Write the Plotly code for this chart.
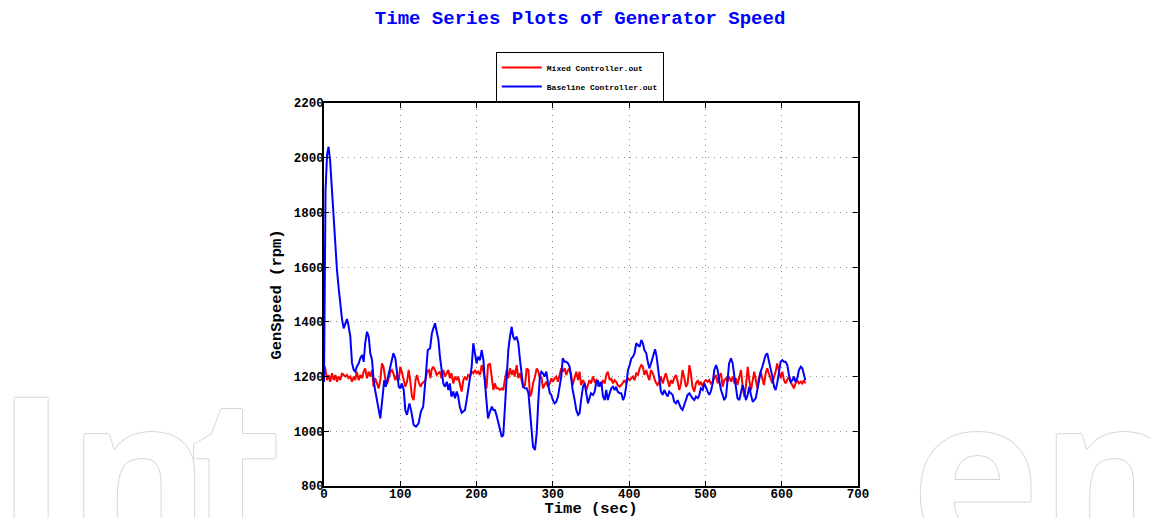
import plotly.graph_objects as go

# ---------------- data ----------------
time_baseline = [0, 1, 2, 4, 6, 8, 10.5, 13, 15, 17, 19, 21.4, 23.6, 25.8, 28, 30, 32, 34.5, 36.7, 39,
                 41, 43, 45.5, 47.6, 50, 52, 54, 56.4, 58.6, 60.7, 63, 65, 67, 69.5, 71.7, 73.8, 75, 77, 79, 81,
                 84, 87, 89, 91, 93.5, 95.7, 98, 100, 102, 104.5, 106.6, 108.8, 112, 114.5, 117.5, 120.6, 124, 127, 130, 133,
                 136, 139, 141.5, 145.5, 147.7, 150, 152, 154, 156.4, 158.6, 161, 163, 165, 167, 169.5, 171.7, 174, 176, 178, 180.5,
                 182.6, 184.8, 187, 189, 191.4, 193.6, 195.7, 198, 200, 202, 204.5, 206.7, 209, 211, 213, 215, 217.6, 220, 222, 224,
                 226, 228.5, 230.7, 233, 235, 237, 239.5, 241.6, 243.8, 246, 248, 250, 252.6, 254.7, 257, 259, 261, 263.5, 265.7, 268,
                 270, 272, 274, 276.6, 278.8, 281, 283, 285, 287, 289, 291.5, 293.6, 296, 298, 300, 302.4, 304.5, 306.7, 309, 311,
                 313, 315.5, 317.6, 320, 322, 324, 326, 328.6, 330.7, 333, 335, 337, 339.5, 341.7, 344, 346, 348, 350, 352.6, 354.8,
                 357, 359, 361, 363.5, 365.7, 368, 370, 372, 374.5, 376.6, 378.8, 381, 383, 385, 387.6, 389.7, 392, 394, 396, 398.5,
                 400.7, 403, 405, 407, 409.4, 411.6, 413.8, 416, 418, 420, 422.5, 424, 426.5, 428.6, 431, 434, 436, 438, 439.5, 441.7,
                 444, 446, 448, 450.5, 452.6, 454.8, 457, 459, 461.4, 463.6, 465.7, 468, 470, 472, 474.5, 476.7, 479, 481, 483, 485.4,
                 487.6, 490, 492, 494, 496.4, 498.5, 500.7, 503, 505, 507, 509.5, 511.6, 514, 516, 518, 520.4, 522.6, 524.7, 527, 529,
                 531, 533.5, 535.7, 538, 540, 542, 544.4, 546.6, 548.8, 551, 553, 555.4, 557.5, 559.7, 562, 564, 566, 568, 570, 572.4,
                 574.6, 576.7, 579, 581, 583, 585.5, 587.7, 590, 592, 594, 596.4, 598.6, 600.8, 603, 605, 607.3, 609.5, 611.7, 614, 616,
                 618, 620.4, 622.6, 625, 627, 629, 631]
speed_baseline = [1180, 1600, 1880, 2010, 2040, 1990, 1880, 1760, 1660, 1590, 1530, 1460, 1410, 1376, 1395, 1410, 1389, 1346, 1250, 1224,
                  1218, 1236, 1248, 1267, 1279, 1254, 1322, 1364, 1346, 1285, 1260, 1187, 1151, 1114, 1090, 1047, 1078, 1139, 1187, 1163,
                  1200, 1242, 1267, 1285, 1267, 1224, 1163, 1157, 1175, 1151, 1078, 1060, 1102, 1072, 1023, 1017, 1029, 1072, 1090, 1187,
                  1297, 1303, 1359, 1395, 1358, 1334, 1273, 1224, 1175, 1163, 1181, 1151, 1175, 1127, 1145, 1121, 1145, 1127, 1090, 1068,
                  1072, 1078, 1114, 1151, 1187, 1236, 1322, 1285, 1248, 1273, 1260, 1297, 1260, 1175, 1102, 1047, 1072, 1090, 1078, 1078,
                  1060, 1029, 998, 980, 986, 1078, 1187, 1297, 1346, 1382, 1346, 1334, 1346, 1322, 1260, 1200, 1163, 1157, 1157, 1139,
                  1078, 993, 944, 932, 993, 1114, 1200, 1218, 1212, 1200, 1218, 1175, 1139, 1133, 1114, 1102, 1108, 1127, 1163, 1200,
                  1267, 1254, 1254, 1248, 1236, 1187, 1151, 1114, 1078, 1060, 1066, 1114, 1163, 1175, 1127, 1102, 1121, 1139, 1133, 1145,
                  1181, 1187, 1163, 1181, 1127, 1114, 1151, 1114, 1139, 1157, 1163, 1151, 1163, 1145, 1139, 1139, 1114, 1127, 1163, 1224,
                  1242, 1267, 1273, 1285, 1322, 1316, 1309, 1334, 1322, 1297, 1285, 1260, 1230, 1248, 1273, 1300, 1273, 1224, 1175, 1145,
                  1133, 1151, 1139, 1127, 1145, 1139, 1133, 1108, 1102, 1114, 1096, 1084, 1078, 1096, 1114, 1133, 1139, 1127, 1121, 1114,
                  1127, 1121, 1133, 1157, 1151, 1175, 1163, 1145, 1133, 1145, 1175, 1224, 1242, 1224, 1187, 1151, 1133, 1114, 1127, 1200,
                  1248, 1267, 1248, 1200, 1151, 1121, 1114, 1145, 1169, 1145, 1114, 1133, 1163, 1133, 1108, 1114, 1121, 1151, 1187, 1218,
                  1236, 1260, 1279, 1285, 1260, 1236, 1200, 1163, 1151, 1175, 1218, 1254, 1260, 1254, 1254, 1242, 1206, 1181, 1187, 1200,
                  1181, 1194, 1224, 1236, 1230, 1206, 1187]

time_mixed = [0, 1.7, 4, 6, 8, 10.5, 12.7, 15, 17, 19, 21.4, 23.6, 25.8, 28, 30, 32, 34.5, 36.7, 39, 41,
              43, 45.5, 47.6, 50, 52, 54, 56.4, 58.6, 60.7, 63, 65, 67, 69.5, 71.7, 73.8, 76, 78, 80.6, 83, 85,
              87, 89, 91, 93.5, 95.7, 98, 100, 102, 104.5, 106.6, 108.8, 111, 113, 115.3, 117.5, 120, 122, 124, 126.5, 128.6,
              131, 133, 135, 137.5, 139.6, 141, 143, 145.5, 147.7, 150, 152, 154, 156.4, 158.6, 161, 163, 165, 167, 169.5, 171.7,
              174, 176, 178, 180.5, 182.6, 184.8, 187, 189, 191.4, 193.6, 195.7, 198, 200, 202, 204.5, 206.7, 209, 211, 213, 215,
              217.6, 220, 222, 224, 226, 228.5, 230.7, 233, 235, 237, 239.5, 241.6, 243.8, 246, 248, 250, 252.6, 254.7, 257, 259,
              261, 263.5, 265.7, 268, 270, 272, 274, 276.6, 278.8, 281, 283, 285, 287, 289, 291.5, 293.6, 296, 298, 300, 302.4,
              304.5, 306.7, 309, 311, 313, 315.5, 317.6, 320, 322, 324, 326, 328.6, 330.7, 333, 335, 337, 339.5, 341.7, 344, 346,
              348, 350, 352.6, 354.8, 357, 359, 361, 363.5, 365.7, 368, 370, 372, 374.5, 376.6, 378.8, 381, 383, 385, 387.6, 389.7,
              392, 394, 396, 398.5, 400.7, 403, 405, 407, 409.4, 411.6, 413.8, 416, 418, 420, 422.5, 424, 426.5, 428.6, 431, 433,
              434.5, 437, 439.5, 441.7, 444, 446, 448, 450.5, 452.6, 454.8, 457, 459, 461.4, 463.6, 465.7, 468, 470, 472, 474.5, 476.7,
              479, 481, 483, 485.4, 487.6, 490, 492, 494, 496.4, 498.5, 500.7, 503, 505, 507, 509.5, 511.6, 514, 516, 518, 520.4,
              522.6, 524.7, 527, 529, 531, 533.5, 535.7, 538, 540, 542, 544.4, 546.6, 548.8, 551, 553, 555.4, 557.5, 559.7, 562, 564,
              566, 568, 570, 572.4, 574.6, 576.7, 579, 581, 583, 585.5, 587.7, 590, 592, 594, 596.4, 598.6, 600.8, 603, 605, 607.3,
              609.5, 611.7, 614, 616, 618, 620.4, 622.6, 625, 627, 629, 631]
speed_mixed = [1240, 1230, 1187, 1206, 1181, 1212, 1187, 1206, 1181, 1200, 1187, 1212, 1206, 1200, 1206, 1194, 1200, 1181, 1200, 1187,
               1218, 1187, 1206, 1194, 1218, 1230, 1194, 1218, 1200, 1224, 1163, 1194, 1175, 1157, 1187, 1248, 1236, 1187, 1175, 1200,
               1218, 1224, 1212, 1187, 1206, 1187, 1236, 1218, 1181, 1163, 1181, 1224, 1187, 1127, 1114, 1187, 1206, 1181, 1163, 1175,
               1181, 1187, 1218, 1224, 1194, 1224, 1236, 1224, 1206, 1212, 1218, 1194, 1224, 1200, 1212, 1224, 1194, 1212, 1175, 1200,
               1187, 1200, 1175, 1145, 1187, 1200, 1187, 1206, 1200, 1218, 1212, 1224, 1212, 1218, 1206, 1242, 1218, 1187, 1157, 1242,
               1248, 1194, 1151, 1175, 1157, 1157, 1151, 1157, 1151, 1187, 1224, 1194, 1230, 1206, 1224, 1200, 1242, 1194, 1212, 1187,
               1163, 1169, 1230, 1224, 1127, 1139, 1175, 1200, 1230, 1218, 1194, 1200, 1157, 1169, 1181, 1163, 1175, 1194, 1181, 1194,
               1200, 1181, 1206, 1230, 1218, 1230, 1206, 1224, 1230, 1206, 1169, 1194, 1218, 1187, 1218, 1169, 1187, 1175, 1151, 1169,
               1187, 1175, 1200, 1181, 1187, 1169, 1175, 1169, 1187, 1175, 1206, 1218, 1187, 1194, 1175, 1187, 1181, 1169, 1163, 1169,
               1181, 1187, 1175, 1194, 1187, 1194, 1200, 1187, 1212, 1206, 1230, 1242, 1236, 1206, 1224, 1206, 1187, 1224, 1212, 1194,
               1181, 1169, 1181, 1200, 1175, 1194, 1212, 1187, 1163, 1187, 1175, 1194, 1206, 1181, 1151, 1175, 1224, 1200, 1163, 1175,
               1242, 1212, 1163, 1145, 1175, 1187, 1169, 1181, 1163, 1181, 1187, 1181, 1187, 1175, 1181, 1194, 1206, 1175, 1200, 1212,
               1163, 1187, 1194, 1181, 1200, 1181, 1200, 1175, 1194, 1169, 1194, 1224, 1163, 1127, 1163, 1236, 1187, 1151, 1187, 1218,
               1187, 1157, 1194, 1218, 1194, 1169, 1212, 1230, 1212, 1187, 1175, 1200, 1218, 1248, 1218, 1194, 1218, 1187, 1175, 1187,
               1200, 1181, 1169, 1157, 1175, 1187, 1175, 1181, 1175, 1187, 1175]

series_names = ["Mixed Controller.out", "Baseline Controller.out"]
x_ticks = [0, 100, 200, 300, 400, 500, 600, 700]
y_ticks = [800, 1000, 1200, 1400, 1600, 1800, 2000, 2200]

MONO = "Liberation Mono, Courier New, monospace"

fig = go.Figure()
fig.add_trace(go.Scatter(x=time_mixed, y=speed_mixed, mode="lines", name=series_names[0],
                         line=dict(color="#ff0000", width=2)))
fig.add_trace(go.Scatter(x=time_baseline, y=speed_baseline, mode="lines", name=series_names[1],
                         line=dict(color="#0000ff", width=2)))

axis_common = dict(
    showline=True, linecolor="black", linewidth=1.5, mirror="ticks",
    ticks="inside", ticklen=5, tickwidth=1, tickcolor="black",
    showgrid=True, gridcolor="#8a8a8a", griddash="1px,5px", gridwidth=1,
    zeroline=False,
    tickfont=dict(family=MONO, size=12.5, color="black", weight="bold"),
)

fig.update_xaxes(range=[0, 700], tickvals=x_ticks, ticklabelstandoff=-5,
                 title=dict(text="Time (sec)", standoff=7,
                            font=dict(family=MONO, size=15.5, color="black", weight="bold")),
                 automargin=False, **axis_common)
fig.update_yaxes(range=[800, 2200], tickvals=y_ticks, ticklabelstandoff=-4,
                 title=dict(text="GenSpeed (rpm)", standoff=8,
                            font=dict(family=MONO, size=15.5, color="black", weight="bold")),
                 automargin=False, **axis_common)

# faint outlined watermark letters outside the axes
wm_font = dict(family="Open Sans, Lato, sans-serif", size=218, color="white", weight="bold",
               shadow="1px 0 #d6d6d6, -1px 0 #d6d6d6, 0 1px #d6d6d6, 0 -1px #d6d6d6")
fig.add_annotation(text="In", xref="paper", yref="paper", x=-0.619, y=0.4386,
                   xanchor="left", yanchor="top", showarrow=False, font=wm_font)
fig.add_annotation(text="t", xref="paper", yref="paper", x=-0.0712, y=0.4386,
                   xanchor="right", yanchor="top", showarrow=False, font=wm_font)
fig.add_annotation(text="en", xref="paper", yref="paper", x=1.0955, y=0.4386,
                   xanchor="left", yanchor="top", showarrow=False, font=wm_font)

fig.update_layout(
    width=1151, height=518,
    margin=dict(l=324, r=293, t=103, b=32),
    paper_bgcolor="white", plot_bgcolor="white",
    title=dict(text="Time Series Plots of Generator Speed", x=0.504, y=0.967,
               xanchor="center", yanchor="middle", xref="container", yref="container",
               font=dict(family=MONO, size=19, color="#0000ff", weight="bold")),
    legend=dict(x=0.479, y=1.133, xanchor="center", yanchor="top",
                bgcolor="white", bordercolor="black", borderwidth=1,
                font=dict(family=MONO, size=8, color="black", weight="bold"),
                itemwidth=40, tracegroupgap=0),
    showlegend=True,
)

fig.write_html("out.html", config={"displayModeBar": False},
               post_script="document.body.style.margin='0px';")
